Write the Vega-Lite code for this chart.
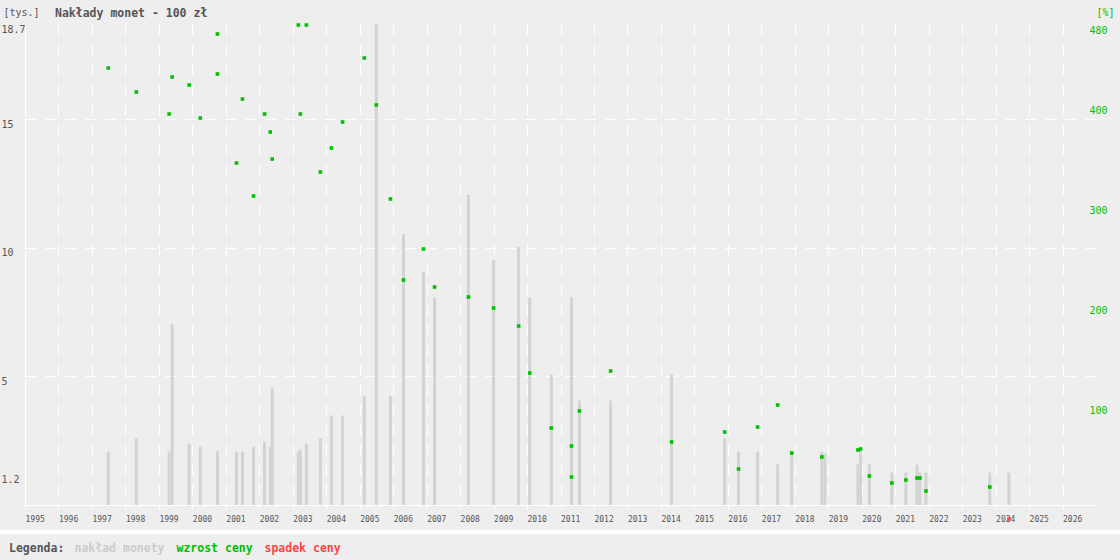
{
  "$schema": "https://vega.github.io/schema/vega-lite/v6.json",
  "autosize": {"type": "none"},
  "width": 1071,
  "height": 481,
  "padding": {"left": 25, "top": 24, "right": 24, "bottom": 55},
  "background": "#eeeeee",
  "view": {"stroke": null},
  "title": {
    "text": "Nakłady monet - 100 zł",
    "anchor": "start",
    "frame": "group",
    "dx": 30,
    "offset": -18,
    "baseline": "middle",
    "font": "DejaVu Sans Mono",
    "fontSize": 11.5,
    "fontWeight": "bold",
    "color": "#555555"
  },
  "data": {
    "values": [
      {"data": "1997-06-28", "naklad": 2.08, "cena": 437, "zmiana": "wzrost ceny"},
      {"data": "1998-04-30", "naklad": 2.59, "cena": 413, "zmiana": "wzrost ceny"},
      {"data": "1999-04-23", "naklad": 2.08, "cena": 391, "zmiana": "wzrost ceny"},
      {"data": "1999-05-26", "naklad": 7.05, "cena": 428, "zmiana": "wzrost ceny"},
      {"data": "1999-11-28", "naklad": 2.39, "cena": 420, "zmiana": "wzrost ceny"},
      {"data": "2000-03-28", "naklad": 2.26, "cena": 387, "zmiana": "wzrost ceny"},
      {"data": "2000-10-01", "naklad": 2.08, "cena": 471, "zmiana": "wzrost ceny"},
      {"data": "2000-10-01", "naklad": 2.08, "cena": 431, "zmiana": "wzrost ceny"},
      {"data": "2001-04-27", "naklad": 2.08, "cena": 342, "zmiana": "wzrost ceny"},
      {"data": "2001-07-01", "naklad": 2.08, "cena": 406, "zmiana": "wzrost ceny"},
      {"data": "2001-10-30", "naklad": 2.26, "cena": 309, "zmiana": "wzrost ceny"},
      {"data": "2002-02-27", "naklad": 2.47, "cena": 391, "zmiana": "wzrost ceny"},
      {"data": "2002-04-30", "naklad": 2.26, "cena": 373, "zmiana": "wzrost ceny"},
      {"data": "2002-05-22", "naklad": 4.56, "cena": 346, "zmiana": "wzrost ceny"},
      {"data": "2003-03-03", "naklad": 2.08, "cena": 480, "zmiana": "wzrost ceny"},
      {"data": "2003-03-25", "naklad": 2.16, "cena": 391, "zmiana": "wzrost ceny"},
      {"data": "2003-05-30", "naklad": 2.39, "cena": 480, "zmiana": "wzrost ceny"},
      {"data": "2003-10-30", "naklad": 2.59, "cena": 333, "zmiana": "wzrost ceny"},
      {"data": "2004-02-27", "naklad": 3.48, "cena": 357, "zmiana": "wzrost ceny"},
      {"data": "2004-06-28", "naklad": 3.48, "cena": 383, "zmiana": "wzrost ceny"},
      {"data": "2005-02-20", "naklad": 4.25, "cena": 447, "zmiana": "wzrost ceny"},
      {"data": "2005-07-01", "naklad": 18.7, "cena": 400, "zmiana": "wzrost ceny"},
      {"data": "2005-12-02", "naklad": 4.25, "cena": 306, "zmiana": "wzrost ceny"},
      {"data": "2006-04-23", "naklad": 10.54, "cena": 225, "zmiana": "wzrost ceny"},
      {"data": "2006-11-28", "naklad": 9.06, "cena": 256, "zmiana": "wzrost ceny"},
      {"data": "2007-03-29", "naklad": 8.06, "cena": 218, "zmiana": "wzrost ceny"},
      {"data": "2008-04-01", "naklad": 12.05, "cena": 208, "zmiana": "wzrost ceny"},
      {"data": "2009-01-01", "naklad": 9.53, "cena": 197, "zmiana": "wzrost ceny"},
      {"data": "2009-10-01", "naklad": 10.03, "cena": 179, "zmiana": "wzrost ceny"},
      {"data": "2010-01-30", "naklad": 8.06, "cena": 132, "zmiana": "wzrost ceny"},
      {"data": "2010-09-23", "naklad": 5.07, "cena": 77, "zmiana": "wzrost ceny"},
      {"data": "2011-05-01", "naklad": 8.06, "cena": 59, "zmiana": "wzrost ceny"},
      {"data": "2011-05-01", "naklad": 8.06, "cena": 28, "zmiana": "wzrost ceny"},
      {"data": "2011-07-27", "naklad": 4.06, "cena": 94, "zmiana": "wzrost ceny"},
      {"data": "2012-07-01", "naklad": 4.06, "cena": 134, "zmiana": "wzrost ceny"},
      {"data": "2014-04-27", "naklad": 5.07, "cena": 63, "zmiana": "wzrost ceny"},
      {"data": "2015-11-28", "naklad": 2.59, "cena": 73, "zmiana": "wzrost ceny"},
      {"data": "2016-04-27", "naklad": 2.08, "cena": 36, "zmiana": "wzrost ceny"},
      {"data": "2016-11-21", "naklad": 2.08, "cena": 78, "zmiana": "wzrost ceny"},
      {"data": "2017-06-28", "naklad": 1.58, "cena": 100, "zmiana": "wzrost ceny"},
      {"data": "2017-11-28", "naklad": 2.08, "cena": 52, "zmiana": "wzrost ceny"},
      {"data": "2018-10-23", "naklad": 2.08, "cena": 48, "zmiana": "wzrost ceny"},
      {"data": "2018-11-25", "naklad": 2.0, "cena": null, "zmiana": null},
      {"data": "2019-11-21", "naklad": 1.58, "cena": 55, "zmiana": "wzrost ceny"},
      {"data": "2019-12-20", "naklad": 2.08, "cena": 56, "zmiana": "wzrost ceny"},
      {"data": "2020-03-25", "naklad": 1.58, "cena": 29, "zmiana": "wzrost ceny"},
      {"data": "2020-11-25", "naklad": 1.26, "cena": 22, "zmiana": "wzrost ceny"},
      {"data": "2021-04-27", "naklad": 1.26, "cena": 25, "zmiana": "wzrost ceny"},
      {"data": "2021-08-26", "naklad": 1.57, "cena": 27, "zmiana": "wzrost ceny"},
      {"data": "2021-09-27", "naklad": 1.26, "cena": 27, "zmiana": "wzrost ceny"},
      {"data": "2021-12-02", "naklad": 1.26, "cena": 14, "zmiana": "wzrost ceny"},
      {"data": "2023-10-30", "naklad": 1.26, "cena": 18, "zmiana": "wzrost ceny"},
      {"data": "2024-05-26", "naklad": 1.26, "cena": -14, "zmiana": "spadek ceny"}
    ]
  },
  "encoding": {
    "x": {
      "field": "data",
      "type": "temporal",
      "title": null,
      "scale": {"domain": [{"year": 1995, "month": 1, "date": 1}, {"year": 2027, "month": 1, "date": 1}], "padding": 0},
      "axis": {
        "values": [
          {"year": 1995}, {"year": 1996}, {"year": 1997}, {"year": 1998}, {"year": 1999},
          {"year": 2000}, {"year": 2001}, {"year": 2002}, {"year": 2003}, {"year": 2004},
          {"year": 2005}, {"year": 2006}, {"year": 2007}, {"year": 2008}, {"year": 2009},
          {"year": 2010}, {"year": 2011}, {"year": 2012}, {"year": 2013}, {"year": 2014},
          {"year": 2015}, {"year": 2016}, {"year": 2017}, {"year": 2018}, {"year": 2019},
          {"year": 2020}, {"year": 2021}, {"year": 2022}, {"year": 2023}, {"year": 2024},
          {"year": 2025}, {"year": 2026}
        ],
        "format": "%Y",
        "labelAlign": "left",
        "labelBaseline": "middle",
        "labelPadding": 10,
        "labelFont": "DejaVu Sans Mono",
        "labelFontSize": 8,
        "labelColor": "#555555",
        "labelFlush": false,
        "labelOverlap": false,
        "tickColor": "#ffffff",
        "tickSize": 4,
        "domainColor": "#ffffff",
        "grid": true,
        "gridColor": "#ffffff",
        "gridDash": [11, 9],
        "gridOpacity": 1
      }
    }
  },
  "layer": [
    {
      "mark": {"type": "bar", "width": 3},
      "encoding": {
        "y": {
          "field": "naklad",
          "type": "quantitative",
          "title": "[tys.]",
          "stack": null,
          "scale": {"domain": [0, 18.7], "nice": false},
          "axis": {
            "values": [1.2, 5, 10, 15, 18.7],
            "format": ".3~g",
            "ticks": false,
            "tickSize": 0,
            "labelAlign": "left",
            "labelBaseline": "top",
            "labelPadding": 24,
            "labelFont": "DejaVu Sans Mono",
            "labelFontSize": 10,
            "labelColor": "#555555",
            "domainColor": "#ffffff",
            "grid": true,
            "gridColor": "#ffffff",
            "gridDash": [11, 9],
            "gridOpacity": {"condition": {"test": "datum.value == 1.2 || datum.value == 18.7", "value": 0}, "value": 1},
            "titleAngle": 0,
            "titleAlign": "left",
            "titleBaseline": "middle",
            "titleX": -22,
            "titleY": -12,
            "titleFont": "DejaVu Sans Mono",
            "titleFontSize": 10,
            "titleFontWeight": "normal",
            "titleColor": "#555555"
          }
        },
        "color": {
          "datum": "nakład monety",
          "type": "nominal",
          "scale": {
            "domain": ["nakład monety", "wzrost ceny", "spadek ceny"],
            "range": ["#d3d3d3", "#00c000", "#ff4444"]
          },
          "legend": {
            "orient": "none",
            "legendX": -16,
            "legendY": 519,
            "direction": "horizontal",
            "title": "Legenda:",
            "titleOrient": "left",
            "titlePadding": 10,
            "titleFont": "DejaVu Sans Mono",
            "titleFontSize": 11.5,
            "titleFontWeight": "bold",
            "titleColor": "#555555",
            "titleBaseline": "middle",
            "labelFont": "DejaVu Sans Mono",
            "labelFontSize": 11.5,
            "labelFontWeight": "bold",
            "labelColor": {"expr": "datum.value === 'wzrost ceny' ? '#00c000' : datum.value === 'spadek ceny' ? '#ff4444' : '#cccccc'"},
            "labelOffset": -12,
            "symbolSize": 0,
            "symbolStrokeWidth": 0,
            "symbolOpacity": 0,
            "columnPadding": 11,
            "padding": 0
          }
        }
      }
    },
    {
      "mark": {"type": "point", "shape": "square", "filled": true, "size": 13, "opacity": 1},
      "encoding": {
        "y": {
          "field": "cena",
          "type": "quantitative",
          "title": "[%]",
          "scale": {"domain": [0, 481], "nice": false},
          "axis": {
            "orient": "right",
            "values": [100, 200, 300, 400, 480],
            "ticks": false,
            "tickSize": 0,
            "domain": false,
            "grid": false,
            "labelAlign": "left",
            "labelBaseline": "top",
            "labelPadding": -7,
            "labelFont": "DejaVu Sans Mono",
            "labelFontSize": 10,
            "labelColor": "#00c000",
            "titleAngle": 0,
            "titleAlign": "left",
            "titleBaseline": "middle",
            "titleX": 0,
            "titleY": -12,
            "titleFont": "DejaVu Sans Mono",
            "titleFontSize": 10,
            "titleFontWeight": "normal",
            "titleColor": "#00c000"
          }
        },
        "color": {"field": "zmiana", "type": "nominal"}
      }
    },
    {
      "mark": {"type": "rule", "color": "#ffffff", "strokeWidth": 4, "clip": false},
      "encoding": {
        "x": {"datum": {"year": 1994, "month": 1, "date": 1}, "type": "temporal"},
        "x2": {"datum": {"year": 2028, "month": 6, "date": 1}},
        "y": {"datum": -1.05, "type": "quantitative", "scale": {"domain": [0, 18.7], "nice": false}, "axis": null}
      }
    }
  ],
  "resolve": {"scale": {"y": "independent"}}
}
